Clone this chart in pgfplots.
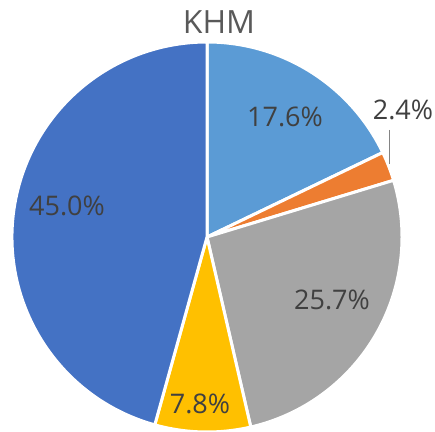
\documentclass[border=0pt]{standalone}
\usepackage{pgfplots}
\usepackage{pgfplotstable}
\pgfplotsset{compat=1.18}
\usepackage{fontspec}
\setmainfont{Open Sans}

\definecolor{c1}{HTML}{5B9BD5}
\definecolor{c2}{HTML}{ED7D31}
\definecolor{c3}{HTML}{A5A5A5}
\definecolor{c4}{HTML}{FFC000}
\definecolor{c5}{HTML}{4472C4}
\definecolor{lbl}{HTML}{404040}
\definecolor{ttl}{HTML}{595959}

% slice values, clockwise from 12 o'clock
\pgfplotstableread{
val color
17.6 c1
2.4 c2
25.7 c3
7.8 c4
45.0 c5
}\piedata

\begin{document}
\begin{tikzpicture}
\useasboundingbox (0,0) rectangle (435pt,431pt);
\begin{axis}[
    hide axis,
    scale only axis,
    width=435pt, height=431pt,
    xmin=0, xmax=435, ymin=0, ymax=431,
    clip=false,
]
\def\total{98.5}
\def\cum{0}
\pgfplotstablegetrowsof{\piedata}
\pgfmathtruncatemacro\N{\pgfplotsretval-1}
\pgfplotsforeachungrouped \i in {0,...,\N}{
    \pgfplotstablegetelem{\i}{val}\of\piedata \let\v\pgfplotsretval
    \pgfplotstablegetelem{\i}{color}\of\piedata \let\c\pgfplotsretval
    \pgfmathsetmacro\sa{90-\cum/\total*360}
    \pgfmathsetmacro\cum{\cum+\v}
    \pgfmathsetmacro\ea{90-\cum/\total*360}
    \edef\temp{\noexpand\fill[\c, draw=white, line width=3pt, line join=round]
        (axis cs:207,194) -- ++(\sa:195pt) arc[start angle=\sa, end angle=\ea, radius=195pt] -- cycle;}
    \temp
}
% leader line for the small slice
\draw[c3!80!black, line width=1pt] (axis cs:389,301) -- (axis cs:389,267);

\node[text=ttl, font=\fontsize{32}{38}\selectfont] at (axis cs:219,409) {KHM};
\begin{scope}[every node/.style={text=lbl, font=\fontsize{27}{32}\selectfont}]
\node at (axis cs:285,314) {17.6\%};
\node at (axis cs:403,321) {2.4\%};
\node at (axis cs:332,131) {25.7\%};
\node at (axis cs:200,27) {7.8\%};
\node at (axis cs:67,225) {45.0\%};
\end{scope}
\end{axis}
\end{tikzpicture}
\end{document}
